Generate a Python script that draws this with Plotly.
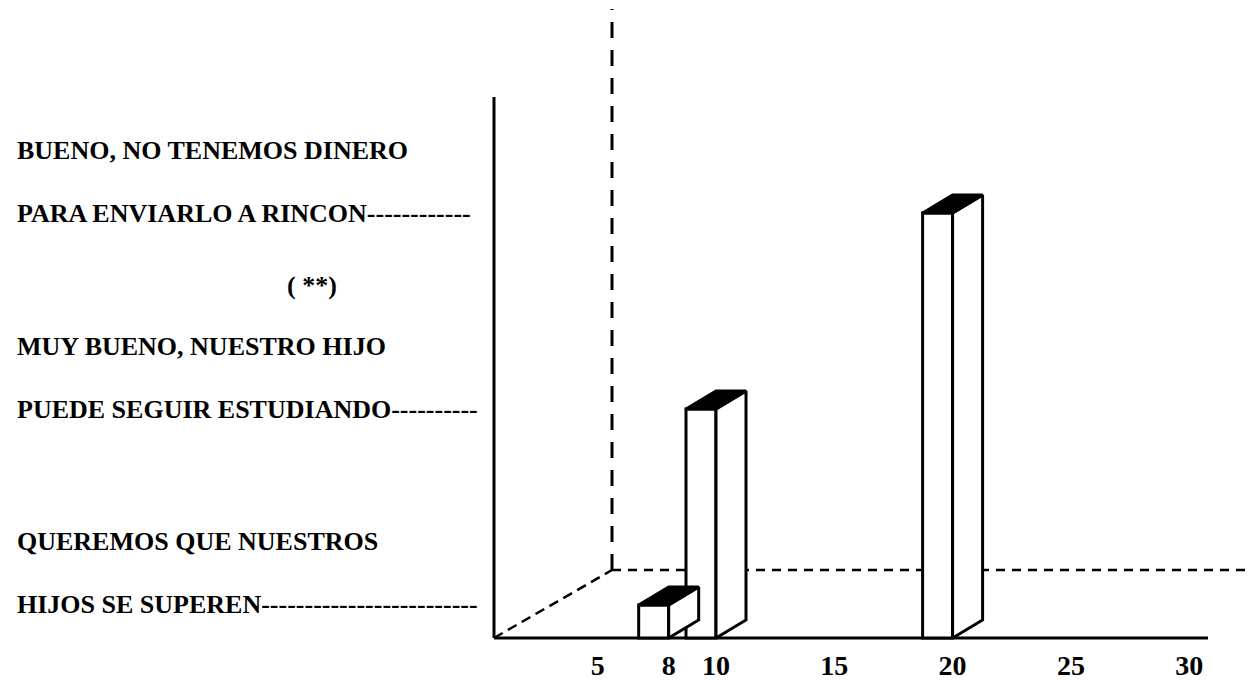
import plotly.graph_objects as go

# ---- data ----
counts = [8, 10, 20]
levels = [1, 2, 3]
label_line1 = ["QUEREMOS QUE NUESTROS", "MUY BUENO, NUESTRO HIJO", "BUENO, NO TENEMOS DINERO"]
label_line2 = ["HIJOS SE SUPEREN" + "-" * 25,
               "PUEDE SEGUIR ESTUDIANDO" + "-" * 10,
               "PARA ENVIARLO A RINCON" + "-" * 12]
note_text = "( **)"
note_level = 3
x_ticks = [5, 8, 10, 15, 20, 25, 30]

# ---- layout constants (page has an 8px body margin) ----
OFF = 8
W, H = 1256 - 2 * OFF, 681 - OFF
MB = 40
PLOT_H = H - MB
X_RANGE = [-19.924, 32.485]
Y_RANGE = [0.8163, 4.0459]
FLOOR = 0.8316
FONT = "Liberation Serif"
FS = 26
TICK_FS = 28

ux = (X_RANGE[1] - X_RANGE[0]) / W        # data units per pixel (x)
uy = (Y_RANGE[1] - Y_RANGE[0]) / PLOT_H   # data units per pixel (y)


def px_x(p):
    return X_RANGE[0] + (p - OFF) * ux


def px_y(p):
    return Y_RANGE[1] - (p - OFF) * uy


BAR_W = 30 * ux
DEPTH_X = 30 * ux
DEPTH_Y = 18 * uy
OFFSET = -(BAR_W + DEPTH_X) / 2

fig = go.Figure()

# front faces
fig.add_trace(go.Bar(
    x=counts, y=[l - FLOOR for l in levels], base=FLOOR,
    width=BAR_W, offset=OFFSET,
    marker=dict(color="white", line=dict(color="black", width=3)),
    hoverinfo="skip", showlegend=False,
))

# side and top faces
for c, l in zip(counts, levels):
    xl = c + OFFSET
    xr = xl + BAR_W
    fig.add_trace(go.Scatter(
        x=[xr, xr + DEPTH_X, xr + DEPTH_X, xr, xr],
        y=[FLOOR, FLOOR + DEPTH_Y, l + DEPTH_Y, l, FLOOR],
        mode="lines", fill="toself", fillcolor="white",
        line=dict(color="black", width=3), hoverinfo="skip", showlegend=False,
    ))
    fig.add_trace(go.Scatter(
        x=[xl, xl + DEPTH_X, xr + DEPTH_X, xr, xl],
        y=[l, l + DEPTH_Y, l + DEPTH_Y, l, l],
        mode="lines", fill="toself", fillcolor="black",
        line=dict(color="black", width=3), hoverinfo="skip", showlegend=False,
    ))

# frame lines
ax_x = px_x(494)
back_x, back_y = px_x(612), px_y(570)
shapes = [
    dict(type="line", xref="x", yref="y", x0=ax_x, y0=FLOOR, x1=ax_x, y1=px_y(97),
         line=dict(color="black", width=3), layer="below"),
    dict(type="line", xref="x", yref="y", x0=ax_x, y0=FLOOR, x1=px_x(1208), y1=FLOOR,
         line=dict(color="black", width=3), layer="below"),
    dict(type="line", xref="x", yref="y", x0=back_x, y0=back_y, x1=back_x, y1=px_y(9),
         line=dict(color="black", width=3, dash="16px,12px"), layer="below"),
    dict(type="line", xref="x", yref="y", x0=back_x, y0=back_y, x1=px_x(1256), y1=back_y,
         line=dict(color="black", width=2.5, dash="9px,7px"), layer="below"),
    dict(type="line", xref="x", yref="y", x0=ax_x, y0=FLOOR, x1=back_x, y1=back_y,
         line=dict(color="black", width=2.5, dash="10px,6px"), layer="below"),
]

annotations = []
lab_x = (15 - OFF) / W
for l, t1, t2 in zip(levels, label_line1, label_line2):
    annotations.append(dict(xref="paper", yref="y", x=lab_x, y=l, text=t2,
                            xanchor="left", yanchor="middle", showarrow=False,
                            font=dict(family=FONT, size=FS, color="black", weight="bold")))
    annotations.append(dict(xref="paper", yref="y", x=lab_x, y=l, yshift=63, text=t1,
                            xanchor="left", yanchor="middle", showarrow=False,
                            font=dict(family=FONT, size=FS, color="black", weight="bold")))
annotations.append(dict(xref="paper", yref="y", x=(312 - OFF) / W, y=note_level, yshift=-72,
                        text=note_text, xanchor="center", yanchor="middle", showarrow=False,
                        font=dict(family=FONT, size=FS, color="black", weight="bold")))

fig.update_layout(
    width=W, height=H,
    margin=dict(l=0, r=0, t=0, b=MB, pad=0, autoexpand=False),
    paper_bgcolor="white", plot_bgcolor="white",
    showlegend=False,
    shapes=shapes, annotations=annotations,
    xaxis=dict(range=X_RANGE, tickvals=x_ticks, ticktext=[str(v) for v in x_ticks],
               showgrid=False, zeroline=False, showline=False, ticks="",
               ticklabelstandoff=5, automargin=False,
               tickfont=dict(family=FONT, size=TICK_FS, color="black", weight="bold"),
               fixedrange=True),
    yaxis=dict(range=Y_RANGE, visible=False, fixedrange=True, automargin=False),
)

fig.write_html("out.html")
